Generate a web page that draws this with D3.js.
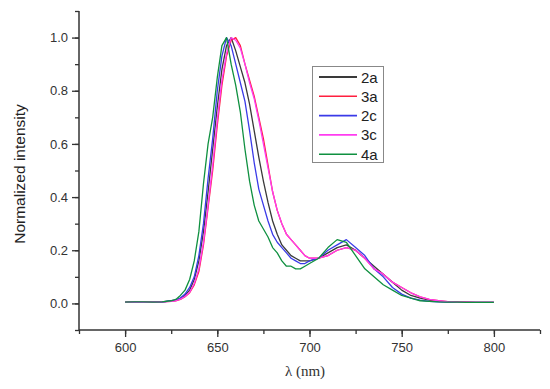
<!DOCTYPE html>
<html><head><meta charset="utf-8">
<script src="https://cdn.jsdelivr.net/npm/d3@7"></script>
<style>body{margin:0;background:#fff}svg{display:block}</style>
</head><body><svg id="c" width="550" height="389"></svg>
<script>
const wavelengths = [600,605,610,615,620,625,627.5,630,632.5,635,637.5,640,642.5,645,647.5,650,652.5,655,657.5,660,662.5,665,667.5,670,672.5,675,677.5,680,682.5,685,687.5,690,692.5,695,697.5,700,705,710,715,720,725,730,735,740,745,750,755,760,765,770,775,780,785,790,795,800];
const s2a = [0.005,0.006,0.005,0.006,0.006,0.01,0.012,0.02,0.03,0.05,0.09,0.16,0.27,0.42,0.58,0.74,0.88,0.97,1.0,0.95,0.89,0.83,0.75,0.65,0.55,0.46,0.38,0.31,0.26,0.22,0.2,0.18,0.17,0.16,0.16,0.16,0.17,0.19,0.21,0.22,0.2,0.17,0.14,0.11,0.08,0.05,0.03,0.02,0.012,0.008,0.006,0.005,0.005,0.004,0.004,0.004];
const s3a = [0.004,0.005,0.005,0.005,0.006,0.008,0.01,0.015,0.025,0.04,0.07,0.12,0.22,0.36,0.5,0.67,0.82,0.93,0.99,1.0,0.97,0.9,0.84,0.78,0.7,0.62,0.52,0.42,0.35,0.3,0.26,0.24,0.22,0.2,0.18,0.17,0.17,0.18,0.2,0.21,0.2,0.17,0.13,0.11,0.08,0.06,0.04,0.025,0.015,0.01,0.007,0.005,0.005,0.004,0.004,0.004];
const s2c = [0.004,0.005,0.004,0.005,0.005,0.01,0.012,0.02,0.035,0.06,0.1,0.18,0.3,0.47,0.62,0.8,0.93,1.0,0.97,0.9,0.83,0.76,0.65,0.53,0.43,0.37,0.31,0.26,0.23,0.21,0.19,0.17,0.16,0.15,0.15,0.16,0.17,0.2,0.22,0.24,0.21,0.18,0.13,0.1,0.06,0.035,0.02,0.012,0.008,0.006,0.005,0.004,0.004,0.004,0.004,0.004];
const s3c = [0.004,0.005,0.005,0.005,0.006,0.008,0.01,0.016,0.026,0.042,0.075,0.13,0.23,0.37,0.52,0.69,0.84,0.94,1.0,0.99,0.96,0.9,0.83,0.77,0.69,0.6,0.51,0.42,0.35,0.3,0.26,0.24,0.22,0.2,0.18,0.17,0.17,0.18,0.2,0.21,0.2,0.17,0.13,0.11,0.08,0.06,0.04,0.025,0.015,0.01,0.007,0.005,0.005,0.004,0.004,0.004];
const s4a = [0.005,0.006,0.006,0.005,0.006,0.01,0.015,0.03,0.05,0.09,0.16,0.27,0.45,0.6,0.7,0.85,0.97,1.0,0.9,0.82,0.72,0.58,0.46,0.37,0.31,0.28,0.25,0.21,0.19,0.16,0.14,0.14,0.13,0.13,0.14,0.15,0.17,0.21,0.24,0.23,0.18,0.13,0.1,0.07,0.05,0.03,0.02,0.01,0.008,0.006,0.005,0.005,0.004,0.004,0.004,0.004];
const seriesNames = ["2a","3a","2c","3c","4a"];
const seriesColors = ["#3a3a3a","#ff1f3f","#3a3ae8","#ff3cf0","#0f9040"];
const seriesValues = [s2a,s3a,s2c,s3c,s4a];
const xTicks = [600,650,700,750,800];
const yTicks = [0.0,0.2,0.4,0.6,0.8,1.0];

const svg = d3.select("#c");
const x = d3.scaleLinear().domain([575,825]).range([79,540]);
const y = d3.scaleLinear().domain([-0.1,1.1]).range([330,11]);
const axisColor = "#333";

// x axis
const xAxis = svg.append("g").attr("transform","translate(0,330)");
xAxis.call(d3.axisBottom(x).tickValues(d3.range(575,826,25)).tickSize(4).tickFormat(""));
xAxis.call(g=>g.selectAll(".tick line").attr("stroke",axisColor).attr("stroke-width",1.3));
const xMaj = svg.append("g").attr("transform","translate(0,330)");
xMaj.call(d3.axisBottom(x).tickValues(xTicks).tickSize(7).tickPadding(6).tickFormat(d3.format("d")));
xMaj.select(".domain").remove();
xMaj.selectAll(".tick line").attr("stroke",axisColor).attr("stroke-width",1.3);
xMaj.selectAll("text").attr("font-family","Arial, 'Liberation Sans', sans-serif").attr("font-size",13).attr("fill","#333");
xAxis.select(".domain").attr("stroke",axisColor).attr("stroke-width",1.5).attr("d","M79,0H540");

// y axis
const yAxis = svg.append("g").attr("transform","translate(79,0)");
yAxis.call(d3.axisLeft(y).tickValues(d3.range(-1,12).map(v=>v/10)).tickSize(4).tickFormat(""));
yAxis.selectAll(".tick line").attr("stroke",axisColor).attr("stroke-width",1.3);
yAxis.select(".domain").attr("stroke",axisColor).attr("stroke-width",1.5).attr("d","M0,11V330");
const yMaj = svg.append("g").attr("transform","translate(79,0)");
yMaj.call(d3.axisLeft(y).tickValues(yTicks).tickSize(7).tickPadding(4).tickFormat(d3.format(".1f")));
yMaj.select(".domain").remove();
yMaj.selectAll(".tick line").attr("stroke",axisColor).attr("stroke-width",1.3);
yMaj.selectAll("text").attr("font-family","Arial, 'Liberation Sans', sans-serif").attr("font-size",13).attr("fill","#333");

// lines
const line = d3.line().x((d,i)=>x(wavelengths[i])).y(d=>y(d));
seriesValues.forEach((vals,k)=>{
  svg.append("path").datum(vals).attr("d",line).attr("fill","none")
    .attr("stroke",seriesColors[k]).attr("stroke-width",1.3).attr("stroke-linejoin","round");
});

// labels
svg.append("text").attr("transform","translate(25,174) rotate(-90)").attr("text-anchor","middle")
  .attr("font-family","Arial, 'Liberation Sans', sans-serif").attr("font-size",15.5).attr("fill","#222")
  .text("Normalized intensity");
svg.append("text").attr("x",305).attr("y",376).attr("text-anchor","middle")
  .attr("font-family","'Times New Roman', 'Liberation Serif', serif").attr("font-size",15).attr("fill","#333")
  .text("λ (nm)");

// legend
const lg = svg.append("g");
lg.append("rect").attr("x",312.5).attr("y",66.5).attr("width",71).attr("height",96)
  .attr("fill","#fff").attr("stroke","#888").attr("stroke-width",1);
seriesNames.forEach((n,k)=>{
  const yy = 77 + k*19.3;
  lg.append("line").attr("x1",319).attr("x2",357).attr("y1",yy).attr("y2",yy)
    .attr("stroke",seriesColors[k]).attr("stroke-width",k===0?2.2:1.6);
  lg.append("text").attr("x",361).attr("y",yy+5.5).attr("font-family","Arial, 'Liberation Sans', sans-serif")
    .attr("font-size",15).attr("fill","#222").text(n);
});
</script></body></html>
